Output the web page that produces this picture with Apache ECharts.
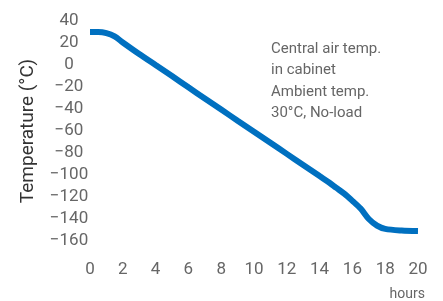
<!DOCTYPE html>
<html>
<head>
<meta charset="utf-8">
<script src="https://cdn.jsdelivr.net/npm/echarts@6/dist/echarts.min.js"></script>
<style>
  html,body{margin:0;padding:0;background:#fff;}
  #chart{width:443px;height:301px;}
</style>
</head>
<body>
<div id="chart"></div>
<script>
// 时间 (hours)
const hours = [0, 0.5, 1, 1.5, 2, 3, 4, 5, 6, 7, 8, 9, 10, 11, 12, 13, 14, 14.6, 15, 15.5, 16, 16.5, 17, 17.5, 18, 19, 20]
// 温度 (°C)
const temps = [30, 30, 29, 26, 20.5, 10, 0, -10, -20.3, -30.4, -40.5, -50.6, -60.6, -70.7, -80.8, -90.9, -101, -107, -111.5, -117, -123.5, -130.5, -140, -146, -149, -150.5, -151]
const noteLines = ['Central air temp.', 'in cabinet', 'Ambient temp.', '30°C, No-load']

const chart = echarts.init(document.getElementById('chart'))
const minus = v => String(v).replace('-', '\u2212')

chart.setOption({
  animation: false,
  grid: { left: 90, top: 21, width: 328, height: 220 },
  xAxis: {
    type: 'value',
    min: 0, max: 20, interval: 2,
    axisLine: { show: false },
    axisTick: { show: false },
    splitLine: { show: false },
    axisLabel: { color: '#666', fontFamily: 'Roboto', fontSize: 17, margin: 20 }
  },
  yAxis: {
    type: 'value',
    min: -160, max: 40, interval: 20,
    name: 'Temperature (°C)',
    nameLocation: 'middle',
    nameGap: 52,
    nameTextStyle: { color: '#333', fontFamily: 'Roboto', fontSize: 19 },
    axisLine: { show: false },
    axisTick: { show: false },
    splitLine: { show: false },
    axisLabel: { color: '#666', fontFamily: 'Roboto', fontSize: 17, margin: 21, align: 'center', formatter: minus }
  },
  graphic: [
    {
      type: 'text', left: 271, top: 38,
      style: { text: noteLines.join('\n'), fill: '#666', font: '15px Roboto', lineHeight: 21.5 }
    },
    {
      type: 'text', right: 18, top: 287,
      style: { text: 'hours', fill: '#666', font: '14px Roboto' }
    }
  ],
  series: [{
    type: 'line',
    data: hours.map((h, i) => [h, temps[i]]),
    smooth: 0.3,
    showSymbol: false,
    lineStyle: { color: '#0070c0', width: 6 }
  }]
})
</script>
</body>
</html>
